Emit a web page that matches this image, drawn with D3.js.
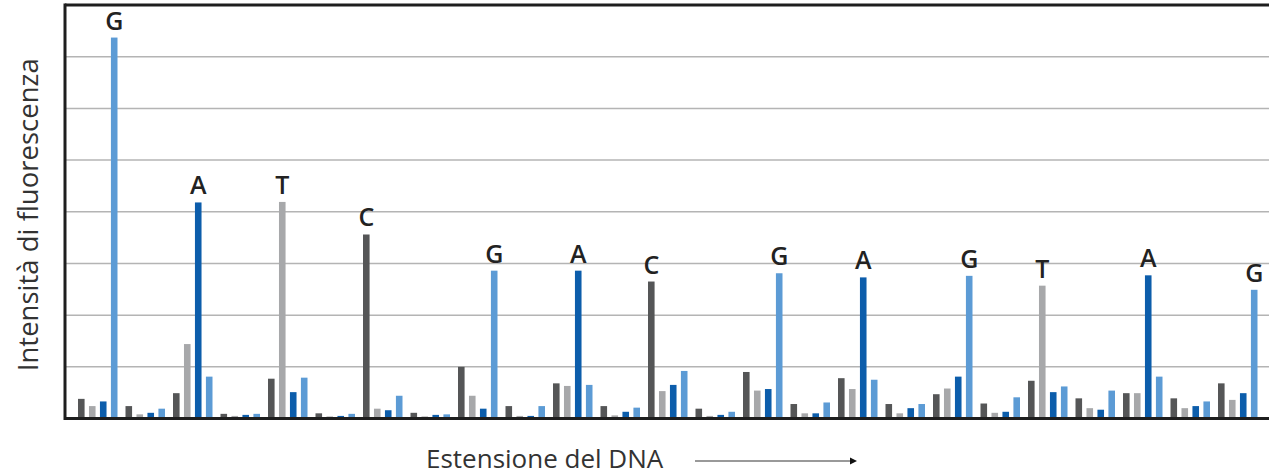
<!DOCTYPE html>
<html>
<head>
<meta charset="utf-8">
<script src="https://cdn.jsdelivr.net/npm/d3@7"></script>
<style>
  body { margin: 0; background: #fff; }
  text { font-family: "Open Sans", sans-serif; }
</style>
</head>
<body>
<div id="chart"></div>
<script>
// one group per position along the DNA, four dye channels per group
var positions = d3.range(1, 26);
var channels = ["C", "T", "A", "G"];   // dark gray, light gray, dark blue, light blue
var colors = ["#555657", "#a7a8aa", "#0c5dab", "#5c9bd5"];

// fluorescence intensity (gridline step = 10)
var cValues = [3.8, 2.4, 4.9, 0.9, 7.7, 1.0, 35.6, 1.1, 10.0, 2.4, 6.8, 2.4, 26.5, 1.9, 9.0, 2.8, 7.8, 2.8, 4.7, 2.9, 7.3, 3.9, 4.9, 3.9, 6.8];
var tValues = [2.4, 0.8, 14.4, 0.5, 41.9, 0.4, 1.9, 0.4, 4.4, 0.5, 6.3, 0.6, 5.3, 0.5, 5.4, 1.0, 5.7, 1.0, 5.8, 1.1, 25.7, 2.0, 4.9, 2.0, 3.6];
var aValues = [3.3, 1.1, 41.8, 0.7, 5.1, 0.5, 1.6, 0.7, 1.9, 0.5, 28.6, 1.3, 6.5, 0.7, 5.7, 1.0, 27.3, 2.0, 8.1, 1.3, 5.1, 1.7, 27.7, 2.4, 4.9];
var gValues = [73.7, 1.9, 8.1, 0.9, 7.9, 0.9, 4.4, 0.8, 28.6, 2.4, 6.5, 2.1, 9.2, 1.3, 28.1, 3.1, 7.5, 2.8, 27.6, 4.1, 6.2, 5.4, 8.1, 3.3, 24.9];

// base called at each peak (blank where there is no peak)
var calls = ["G", "", "A", "", "T", "", "C", "", "G", "", "A", "", "C", "", "G", "", "A", "", "G", "", "T", "", "A", "", "G"];

var yTicks = [10, 20, 30, 40, 50, 60, 70, 80];

var width = 1269, height = 476;
var margin = { top: 5, right: 0, bottom: 57.5, left: 65 };

var svg = d3.select("#chart").append("svg")
    .attr("width", width)
    .attr("height", height);

var x = d3.scaleBand()
    .domain(positions)
    .range([74, 1261.5]);

var x1 = d3.scaleBand()
    .domain(channels)
    .range([4, 43.5])
    .paddingInner(0.4);

var y = d3.scaleLinear()
    .domain([0, 80])
    .range([height - margin.bottom, margin.top]);

// gridlines
svg.append("g")
    .selectAll("line")
    .data(yTicks)
    .enter().append("line")
    .attr("x1", margin.left)
    .attr("x2", width)
    .attr("y1", function (d) { return y(d); })
    .attr("y2", function (d) { return y(d); })
    .style("stroke", "#b4b4b4")
    .style("stroke-width", 1.5);

var series = [cValues, tValues, aValues, gValues];
var data = positions.map(function (p, i) {
    return {
        pos: p,
        call: calls[i],
        bars: channels.map(function (c, j) { return { ch: c, v: series[j][i], color: colors[j] }; })
    };
});

var group = svg.selectAll(".group")
    .data(data)
    .enter().append("g")
    .attr("class", "group")
    .attr("transform", function (d) { return "translate(" + x(d.pos) + ",0)"; });

group.selectAll("rect")
    .data(function (d) { return d.bars; })
    .enter().append("rect")
    .attr("x", function (d) { return x1(d.ch); })
    .attr("width", x1.bandwidth())
    .attr("y", function (d) { return y(d.v); })
    .attr("height", function (d) { return y(0) - y(d.v); })
    .style("fill", function (d) { return d.color; });

// base letters above the peaks
group.filter(function (d) { return d.call !== ""; })
    .append("text")
    .attr("x", function (d) { return x1(d.call) + x1.bandwidth() / 2; })
    .attr("y", function (d) {
        var idx = channels.indexOf(d.call);
        return y(series[idx][positions.indexOf(d.pos)]) - 8;
    })
    .attr("text-anchor", "middle")
    .style("font-size", "25px")
    .style("font-weight", 600)
    .style("fill", "#222")
    .text(function (d) { return d.call; });

// frame: left axis, top line, baseline
var frame = svg.append("g").style("stroke", "#1e1e1e").style("stroke-width", 3);
frame.append("line").attr("x1", margin.left).attr("x2", margin.left).attr("y1", y(80) - 1.5).attr("y2", y(0) + 1.5);
frame.append("line").attr("x1", margin.left).attr("x2", width).attr("y1", y(80)).attr("y2", y(80));
frame.append("line").attr("x1", margin.left).attr("x2", width).attr("y1", y(0)).attr("y2", y(0));

// axis titles
svg.append("text")
    .attr("transform", "translate(38," + (y(40) + 3) + ") rotate(-90)")
    .attr("text-anchor", "middle")
    .style("font-size", "27.5px")
    .style("fill", "#333")
    .text("Intensità di fluorescenza");

svg.append("text")
    .attr("x", 426)
    .attr("y", 468)
    .style("font-size", "26px")
    .style("fill", "#333")
    .text("Estensione del DNA");

svg.append("defs").append("marker")
    .attr("id", "arrow")
    .attr("viewBox", "0 0 10 10")
    .attr("refX", 2).attr("refY", 5)
    .attr("markerWidth", 5).attr("markerHeight", 5)
    .attr("orient", "auto")
    .append("path")
    .attr("d", "M0,0 L10,5 L0,10 z")
    .style("fill", "#111");

svg.append("line")
    .attr("x1", 695).attr("x2", 851)
    .attr("y1", 461).attr("y2", 461)
    .style("stroke", "#777")
    .style("stroke-width", 1.5)
    .attr("marker-end", "url(#arrow)");
</script>
</body>
</html>
